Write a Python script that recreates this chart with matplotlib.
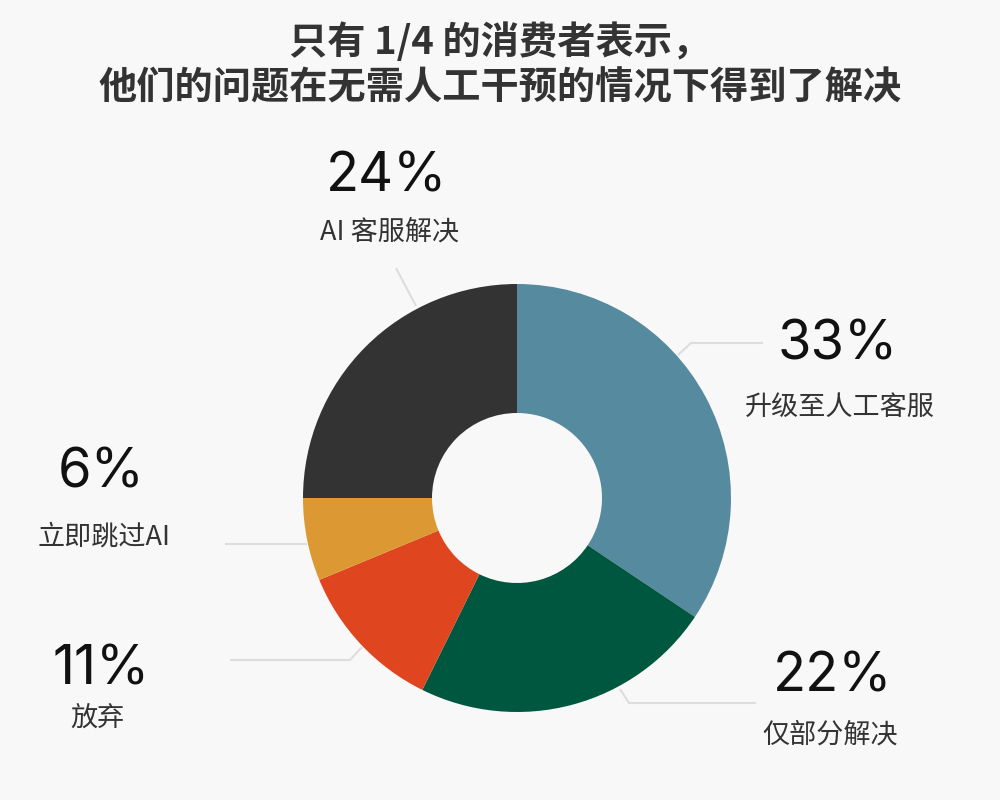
import matplotlib.pyplot as plt

plt.rcParams['font.family'] = ['Noto Sans CJK SC', 'DejaVu Sans']

# data
labels = ['升级至人工客服', '仅部分解决', '放弃', '立即跳过AI', 'AI 客服解决']
values = [33, 22, 11, 6, 24]
colors = ['#568a9e', '#00573f', '#df461f', '#db9833', '#333333']
title = '只有 1/4 的消费者表示，\n他们的问题在无需人工干预的情况下得到了解决'

W, H = 1000, 800


def Y(py):
    # pixel row -> data y
    return H - py


fig = plt.figure(figsize=(10, 8), dpi=100, facecolor='#f8f8f8')
ax = fig.add_axes([0, 0, 1, 1])
ax.set_facecolor('#f8f8f8')

cx, cy = 517, Y(498)
R, r = 214, 85
ax.pie(values, colors=colors, startangle=90, counterclock=False,
       center=(cx, cy), radius=R, frame=True,
       wedgeprops=dict(width=R - r, linewidth=0))
ax.set_xlim(0, W)
ax.set_ylim(0, H)
ax.axis('off')
ax.set_aspect('equal')

# label layout: (number x, number y, label x, label y, leader polyline)
layout = [
    (838, 345, 840, 407, [(678, 355), (691, 343), (763, 343)]),
    (833, 677, 830, 735, [(620, 689), (629, 703), (756, 703)]),
    (101, 670, 97, 718, [(362, 647), (350, 660), (230, 660)]),
    (101, 473, 104, 537, [(307, 544), (225, 544)]),
    (387, 177, 390, 232, [(416, 306), (396, 268)]),
]

for v, lab, (nx, ny, lx, ly, pts) in zip(values, labels, layout):
    ax.text(nx, Y(ny), f'{v}%', ha='center', va='center',
            fontsize=39, color='#111111', family=['Inter', 'DejaVu Sans'])
    ax.text(lx, Y(ly), lab, ha='center', va='center',
            fontsize=19.5, color='#333333', fontweight='medium')
    xs = [p[0] for p in pts]
    ys = [Y(p[1]) for p in pts]
    ax.plot(xs, ys, color='#dddddd', lw=1.5, solid_capstyle='butt')

ax.text(500, Y(65), title, ha='center', va='center', fontsize=27.5,
        fontweight='bold', color='#333333', linespacing=1.22)

fig.savefig('out.png', dpi=100, facecolor=fig.get_facecolor())
